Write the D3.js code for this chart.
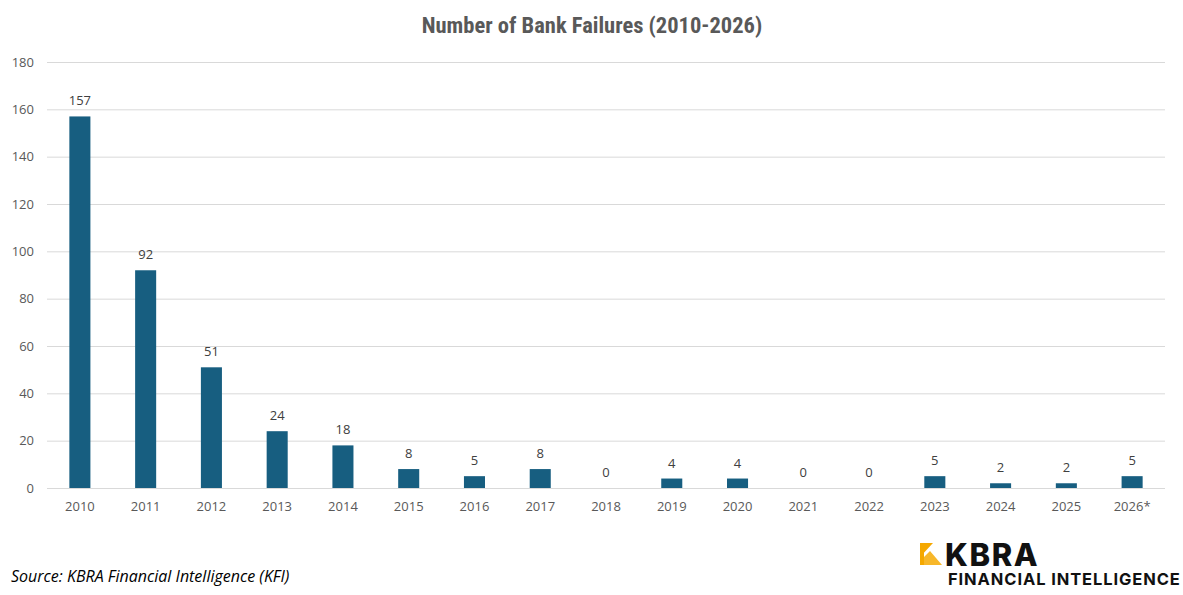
<!DOCTYPE html>
<html>
<head>
<meta charset="utf-8">
<script src="https://cdn.jsdelivr.net/npm/d3@7"></script>
<style>
  body { margin: 0; background: #fff; }
  svg { display: block; }
</style>
</head>
<body>
<svg id="chart" width="1183" height="595"></svg>
<script>
// data
const years = ["2010", "2011", "2012", "2013", "2014", "2015", "2016", "2017", "2018",
               "2019", "2020", "2021", "2022", "2023", "2024", "2025", "2026*"];
const failures = [157, 92, 51, 24, 18, 8, 5, 8, 0, 4, 4, 0, 0, 5, 2, 2, 5];
const yTicks = [0, 20, 40, 60, 80, 100, 120, 140, 160, 180];

const W = 1183, H = 595;
const margin = {top: 62, right: 18, bottom: 107, left: 47};
const textColor = "#595959";
const font = "'Open Sans', 'Liberation Sans', sans-serif";

const svg = d3.select("#chart");

const x = d3.scaleBand()
    .domain(years)
    .range([margin.left, W - margin.right])
    .paddingInner(0.68)
    .paddingOuter(0.34);

const y = d3.scaleLinear()
    .domain([0, 180])
    .range([H - margin.bottom, margin.top]);

// gridlines
svg.append("g")
    .selectAll("line")
    .data(yTicks)
    .join("line")
    .attr("x1", margin.left)
    .attr("x2", W - margin.right)
    .attr("y1", d => y(d) + 0.5)
    .attr("y2", d => y(d) + 0.5)
    .attr("stroke", "#d9d9d9")
    .attr("stroke-width", 1);

// y axis labels
const yAxis = svg.append("g")
    .attr("transform", `translate(${margin.left - 13},0)`)
    .call(d3.axisLeft(y).tickValues(yTicks).tickSize(0).tickPadding(0));
yAxis.select(".domain").remove();
yAxis.selectAll("text")
    .attr("fill", textColor)
    .style("font-family", font)
    .style("font-size", "13px");

// x axis labels
const xAxis = svg.append("g")
    .attr("transform", `translate(0,${H - margin.bottom})`)
    .call(d3.axisBottom(x).tickSize(0).tickPadding(14));
xAxis.select(".domain").remove();
xAxis.selectAll("text")
    .attr("fill", textColor)
    .style("font-family", font)
    .style("font-size", "13px");

// bars
svg.append("g")
    .selectAll("rect")
    .data(failures)
    .join("rect")
    .attr("x", (d, i) => x(years[i]))
    .attr("y", d => y(d))
    .attr("width", x.bandwidth())
    .attr("height", d => y(0) - y(d))
    .attr("fill", "#175e80");

// value labels
svg.append("g")
    .selectAll("text")
    .data(failures)
    .join("text")
    .attr("x", (d, i) => x(years[i]) + x.bandwidth() / 2)
    .attr("y", d => y(d) - 11)
    .attr("text-anchor", "middle")
    .attr("fill", "#404040")
    .style("font-family", font)
    .style("font-size", "13px")
    .text(d => d);

// title
svg.append("text")
    .attr("x", 592)
    .attr("y", 33)
    .attr("text-anchor", "middle")
    .attr("fill", textColor)
    .style("font-family", "'Liberation Sans Narrow', 'Roboto Condensed', 'Liberation Sans', sans-serif")
    .style("font-weight", "bold")
    .style("font-size", "22.5px")
    .text("Number of Bank Failures (2010-2026)");

// source note
svg.append("text")
    .attr("x", 11)
    .attr("y", 582)
    .attr("fill", "#000")
    .style("font-family", font)
    .style("font-style", "italic")
    .style("font-size", "16px")
    .text("Source: KBRA Financial Intelligence (KFI)");

// logo
const logo = svg.append("g").attr("transform", "translate(920,543)");
logo.append("path")
    .attr("d", "M0,0 H13 L0,14 Z")
    .attr("fill", "#f5a800");
logo.append("path")
    .attr("d", "M0,18 L10,8 L22,22 H0 Z")
    .attr("fill", "#f7b72a");
logo.append("path")
    .attr("d", "M0,0 H4 V22 H0 Z")
    .attr("fill", "#f5a800");
logo.append("text")
    .attr("x", 25)
    .attr("y", 22.5)
    .attr("fill", "#111")
    .style("font-family", "'Inter', 'Liberation Sans', sans-serif")
    .style("font-weight", "800")
    .style("font-size", "31px")
    .style("letter-spacing", "1.6px")
    .text("KBRA");
logo.append("text")
    .attr("x", 28)
    .attr("y", 42)
    .attr("fill", "#111")
    .style("font-family", "'Inter', 'Liberation Sans', sans-serif")
    .style("font-weight", "700")
    .style("font-size", "16.5px")
    .style("letter-spacing", "0.9px")
    .text("FINANCIAL INTELLIGENCE");
</script>
</body>
</html>
